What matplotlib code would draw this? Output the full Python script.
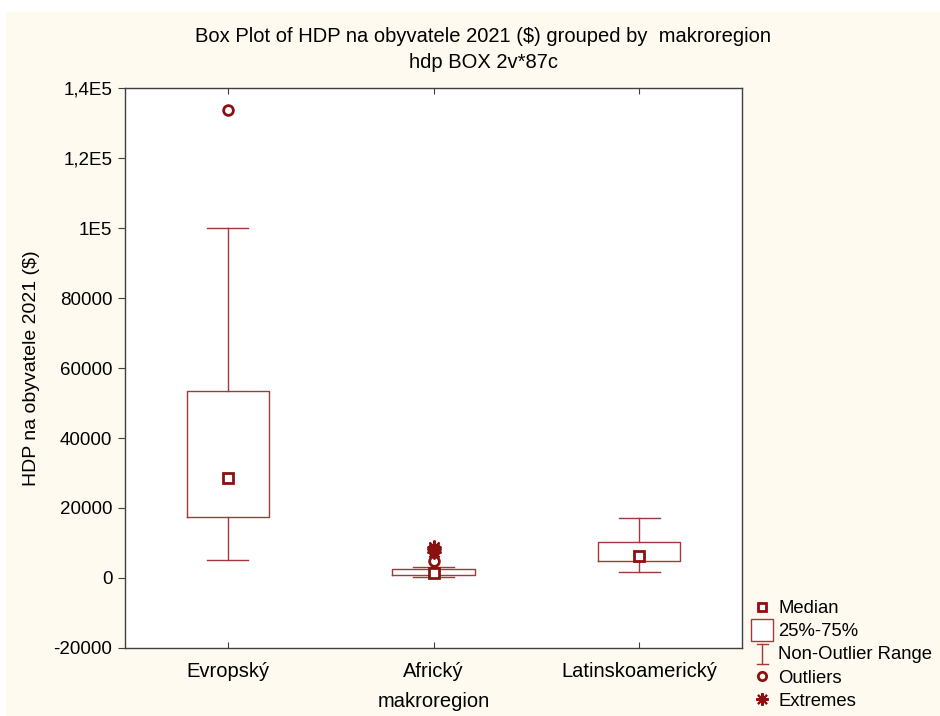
import numpy as np
import matplotlib.pyplot as plt
from matplotlib.lines import Line2D
from matplotlib.patches import Rectangle
from matplotlib.legend_handler import HandlerBase

plt.rcParams['font.family'] = ['Liberation Sans', 'DejaVu Sans']

groups = ['Evropský', 'Africký', 'Latinskoamerický']
q1 = [17400, 800, 4900]
q3 = [53400, 2500, 10300]
med = [28600, 1500, 6300]
whislo = [5100, 300, 1700]
whishi = [100000, 3200, 17200]
outliers = [[133700], [5000], []]
extremes = [[], [7500, 8200, 8800], []]

yticks = [-20000, 0, 20000, 40000, 60000, 80000, 100000, 120000, 140000]
ylabels = ['-20000', '0', '20000', '40000', '60000', '80000', '1E5', '1,2E5', '1,4E5']

red = '#8B1010'
boxcol = '#A03A3A'
cream = '#FFFAEF'


class IBeamHandler(HandlerBase):
    def create_artists(self, legend, orig_handle, xdescent, ydescent,
                       width, height, fontsize, trans):
        cx = -xdescent + width / 2
        y0 = -ydescent - 3
        y1 = -ydescent + height + 2
        half = width * 0.3
        arts = [Line2D([cx, cx], [y0, y1]),
                Line2D([cx - half, cx + half], [y0, y0]),
                Line2D([cx - half, cx + half], [y1, y1])]
        for a in arts:
            a.set_color(boxcol)
            a.set_linewidth(1)
            a.set_transform(trans)
        return arts


fig = plt.figure(figsize=(9.4, 7.16), dpi=100, facecolor='white')
fig.patches.append(Rectangle((6 / 940, 0), 1, 1 - 12 / 716, transform=fig.transFigure,
                             facecolor=cream, edgecolor='none', zorder=-1))
ax = fig.add_axes([125 / 940, 1 - 648 / 716, 617 / 940, 560 / 716])
ax.set_facecolor('white')

pos = np.arange(1, len(groups) + 1)
stats = []
for i in range(len(groups)):
    stats.append(dict(med=med[i], q1=q1[i], q3=q3[i], whislo=whislo[i],
                      whishi=whishi[i], fliers=[], label=groups[i]))

ax.bxp(stats, positions=pos, widths=0.4, capwidths=0.2, showfliers=False,
       boxprops=dict(color=boxcol, linewidth=1),
       whiskerprops=dict(color=boxcol, linewidth=1),
       capprops=dict(color=boxcol, linewidth=1),
       medianprops=dict(linestyle='none'))

ax.plot(pos, med, 's', ms=7, mfc='white', mec=red, mew=2, linestyle='none', zorder=4)
for i in range(len(groups)):
    if outliers[i]:
        ax.plot([pos[i]] * len(outliers[i]), outliers[i], 'o', ms=7, mfc='none',
                mec=red, mew=2, linestyle='none', zorder=4)
    if extremes[i]:
        ax.plot([pos[i]] * len(extremes[i]), extremes[i], marker=(8, 2, 0), ms=10,
                color=red, mew=1.5, linestyle='none', zorder=4)

ax.set_xlim(0.5, 3.5)
ax.set_ylim(-20000, 140000)
ax.set_yticks(yticks)
ax.set_yticklabels(ylabels, fontsize=13.5)
ax.set_xticks(pos)
ax.set_xticklabels(groups, fontsize=14.5)
ax.tick_params(axis='y', direction='out', length=5, color='#404040', pad=4)
ax.tick_params(axis='x', direction='in', top=True, length=4, color='#404040', pad=10)
for s in ax.spines.values():
    s.set_color('#404040')
    s.set_linewidth(1)

ax.set_ylabel('HDP na obyvatele 2021 ($)', fontsize=14, labelpad=10)
ax.set_xlabel('makroregion', fontsize=14.5, labelpad=8)

fig.text(0.514, 1 - 36 / 716, 'Box Plot of HDP na obyvatele 2021 ($) grouped by  makroregion',
         ha='center', va='center', fontsize=14.5)
fig.text(0.514, 1 - 62 / 716, 'hdp BOX 2v*87c', ha='center', va='center', fontsize=14.5)

ib = Line2D([], [])
handles = [Line2D([], [], marker='s', ms=6, mfc='white', mec=red, mew=2, linestyle='none'),
           Line2D([], [], marker='s', ms=16, mfc='white', mec=boxcol, mew=1, linestyle='none'),
           ib,
           Line2D([], [], marker='o', ms=6, mfc='none', mec=red, mew=2, linestyle='none'),
           Line2D([], [], marker=(8, 2, 0), ms=9, color=red, mew=1.5, linestyle='none')]
labels = ['Median', '25%-75%', 'Non-Outlier Range', 'Outliers', 'Extremes']
fig.legend(handles, labels, loc='upper left', bbox_to_anchor=(744 / 940, 1 - 591 / 716),
           frameon=False, fontsize=13.3, handlelength=1.0, handletextpad=0.35,
           labelspacing=0.33, borderpad=0, handler_map={ib: IBeamHandler()})

fig.savefig('out.png', dpi=100, facecolor=fig.get_facecolor())
